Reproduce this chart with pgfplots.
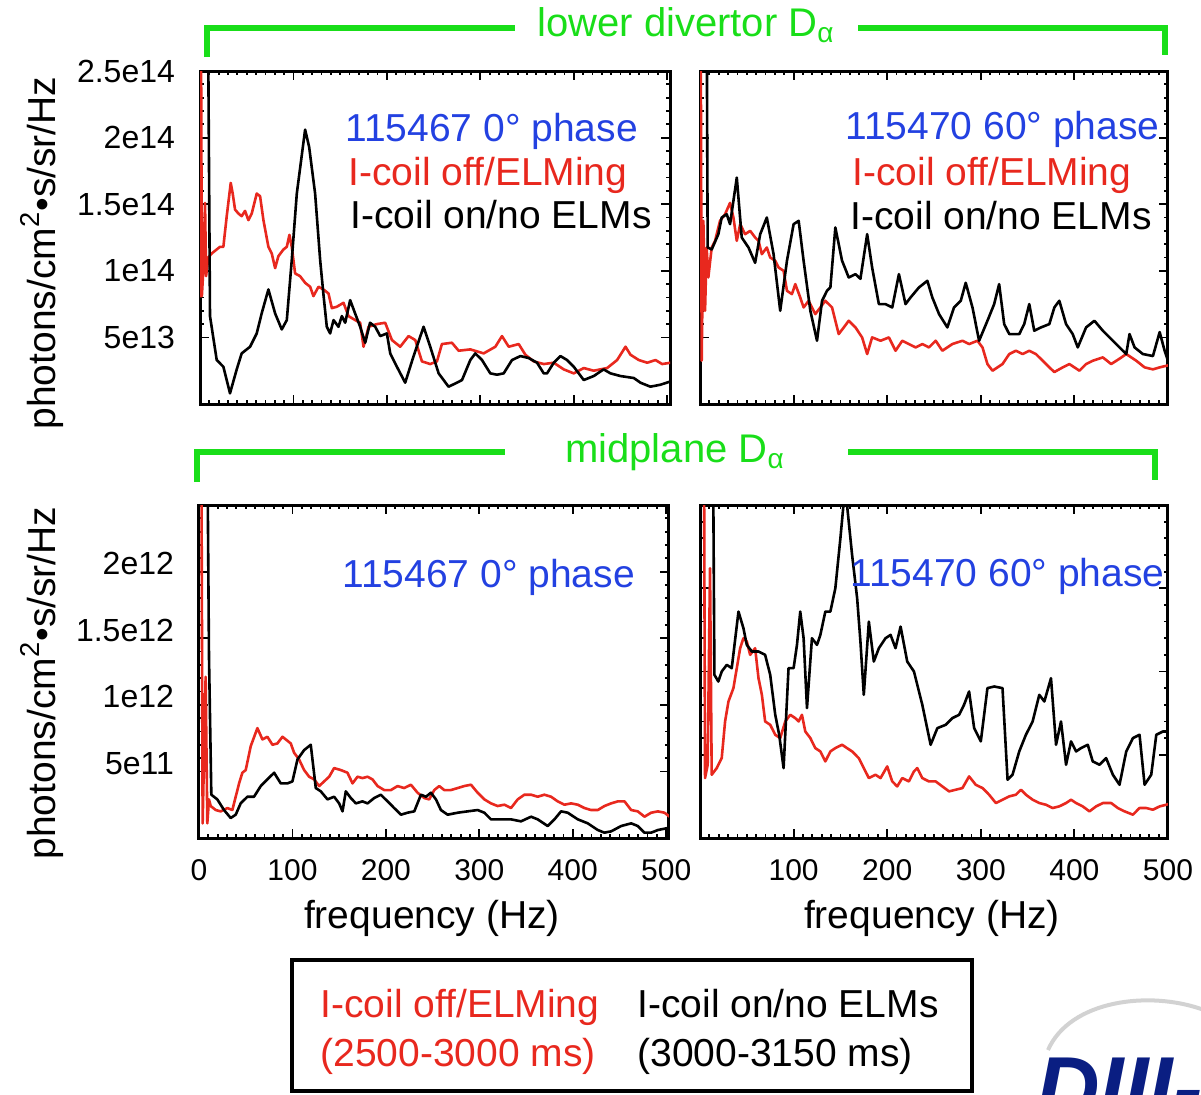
\documentclass[border=0pt]{standalone}
\usepackage{pgfplots}
\pgfplotsset{compat=1.18}
\usepackage{fontspec}
\setmainfont{Liberation Sans}
\definecolor{myred}{RGB}{232,40,30}
\definecolor{myblue}{RGB}{35,65,225}
\definecolor{mygreen}{RGB}{25,222,25}
\definecolor{navy}{RGB}{10,30,130}
\newcommand{\bigf}{\fontsize{19.5}{22}\selectfont}
\pgfplotsset{
 panel/.style={
  scale only axis, width=235pt, height=166.5pt,
  xmin=0, xmax=503, ymin=0, ymax=25,
  axis line style={line width=1.5pt},
  tick align=inside, tick pos=both,
  major tick length=4.5pt, minor tick length=2.2pt,
  every tick/.style={black, line width=0.9pt},
  xtick={0,100,200,300,400,500}, minor x tick num=9, minor y tick num=4,
  ytick={5,10,15,20,25},
  xticklabels={}, yticklabels={},
  xticklabel style={font=\fontsize{15}{17}\selectfont, yshift=-7pt},
  yticklabel style={font=\fontsize{16}{18}\selectfont, xshift=-9pt},
  /pgf/number format/assume math mode=true,
 },
 rl/.style={color=myred, line width=1.3pt, line join=round},
 bl/.style={black, line width=1.3pt, line join=round},
}
\begin{document}
\begin{tikzpicture}
\useasboundingbox (0pt,0pt) rectangle (600.5pt,-547pt);

% ---------------- top left ----------------
\begin{axis}[panel, at={(100pt,-35.5pt)}, anchor=north west,
  yticklabels={5e13,1e14,1.5e14,2e14,2.5e14}]
\addplot[rl] coordinates {(0.3,8.0)(1.0,30)(2.0,8.1)(3.5,10)(5.4,15.1)(6.5,9.6)(8.9,11.0)(12.5,11.3)(21.4,11.8)(25,11.8)(28.6,14.1)(32.9,16.6)(35,15.8)(37.5,14.6)(41.1,14.3)(44.6,14.1)(48.2,14.5)(51.8,13.8)(55.4,14.3)(60.7,15.8)(64.3,15.6)(67.9,13.8)(73.2,11.8)(76.8,11.3)(80.4,10.2)(83.9,11.1)(89.3,11.6)(92.9,11.8)(95.7,12.7)(98.2,11.8)(101.8,9.8)(107.1,9.6)(112.5,9.1)(117.9,8.8)(121.4,8.1)(126.8,8.8)(132.1,8.6)(137.5,8.3)(141.1,7.2)(146.4,7.3)(153.6,7.6)(158.9,6.6)(166.1,6.3)(171.4,6.1)(175,4.3)(180.4,5.8)(189.3,6.0)(198.2,6.1)(205.4,4.8)(214.3,4.3)(223.2,5.1)(230.4,4.8)(237.5,3.2)(246.4,3.0)(253.6,3.2)(258.9,4.5)(269.6,4.6)(276.8,4.0)(289.3,4.1)(303.6,3.8)(316.1,4.3)(323.2,5.1)(330.4,4.3)(341.1,4.5)(348.2,3.7)(357.1,3.2)(367.9,3.0)(378.6,3.1)(389.3,2.6)(400,2.3)(410.7,2.7)(421.4,2.5)(435.7,2.7)(446.4,3.3)(455.4,4.3)(460.7,3.7)(469.6,3.3)(478.6,3.1)(487.5,3.3)(494.6,3.0)(503.6,3.1)};
\addplot[bl] coordinates {(6,30)(8.5,30)(10.7,6.6)(17.9,3.3)(25,2.8)(32.1,0.8)(39.3,2.6)(44.6,3.8)(53.6,4.3)(60.7,5.3)(66,6.8)(73.2,8.6)(80.4,6.8)(87.5,5.6)(92.9,6.3)(98.2,10.8)(103.6,15.8)(112.5,20.6)(116.8,19.3)(123.2,15.8)(128.6,10.8)(132,8.3)(135.7,5.8)(139.3,5.3)(142.9,6.3)(148.2,5.8)(151.8,6.6)(155.4,6.1)(160.7,7.8)(166,6.8)(171.4,5.8)(176.8,4.6)(182,6.1)(187.5,5.8)(192.9,5.1)(200,5.3)(203.6,3.8)(210.7,2.8)(219.6,1.6)(228.6,3.6)(239.3,5.8)(246.4,4.3)(255.4,2.3)(266,1.3)(275,1.6)(280.4,1.8)(289.3,3.3)(294.6,3.8)(301.8,3.3)(310.7,2.3)(317.9,2.2)(325,2.3)(333.9,3.3)(342.9,3.6)(351.8,3.45)(360.7,3.1)(367.9,2.3)(371.4,2.3)(378.6,3.1)(385.7,3.6)(392.9,3.3)(400,2.8)(410.7,1.8)(421.4,2.1)(432,2.6)(439.3,2.3)(450,2.1)(464.3,1.95)(471.4,1.6)(482,1.3)(492.9,1.45)(503.6,1.7)};
\end{axis}

% ---------------- top right ----------------
\begin{axis}[panel, at={(350pt,-35.5pt)}, anchor=north west, width=234pt, xmax=500]
\addplot[rl] coordinates {(0.7,30)(1.8,3.25)(3.6,13.75)(5.4,7.0)(7.1,11.75)(8.9,9.5)(12.5,11.75)(16.1,12.25)(21.4,13.75)(26.8,14.25)(32.1,15.1)(35.7,14.0)(39.3,12.25)(42.9,13.5)(48.2,12.75)(53.6,13.0)(58.9,12.5)(62.5,12.25)(66.1,11.25)(71.4,11.75)(75,11.0)(80.4,10.75)(83.9,10.25)(89.3,10.0)(92.9,8.5)(98.2,8.25)(101.8,9.0)(107.1,8.0)(110.7,7.25)(116.1,7.75)(123.2,6.75)(128.6,7.25)(133.9,7.75)(141.1,7.25)(148.2,5.25)(153.6,5.75)(158.9,6.25)(166.1,5.75)(173.2,5.0)(178.6,3.75)(183.9,5.0)(192.9,4.75)(201.8,5.0)(208.9,4.0)(216.1,4.75)(223.2,4.5)(230.4,4.25)(237.5,4.5)(244.6,4.25)(251.8,4.75)(258.9,4.0)(269.6,4.5)(280.4,4.75)(287.5,4.5)(296.4,4.75)(301.8,4.25)(307.1,3.0)(312.5,2.5)(323.2,3.0)(330.4,3.75)(337.5,4.0)(344.6,3.75)(351.8,4.0)(358.9,3.75)(366.1,3.25)(373.2,2.75)(378.6,2.4)(387.5,2.75)(394.6,3.0)(405.4,2.5)(412.5,3.0)(419.6,3.25)(430.4,3.5)(439.3,3.0)(448.2,3.4)(455.4,3.75)(466.1,3.25)(475,2.75)(483.9,2.6)(491.1,2.75)(500,2.9)};
\addplot[bl] coordinates {(5,30)(7.1,30)(8.2,11.75)(12.5,11.6)(19.6,12.75)(23.2,14.0)(28.6,14.25)(32.1,13.5)(39.3,17.0)(44.6,12.5)(51.8,11.75)(58.9,10.6)(64.3,12.75)(71.4,14.0)(78.6,11.25)(85.7,7.0)(92.9,10.75)(100,13.5)(105.4,13.75)(110.7,10.75)(117.9,7.0)(125,4.75)(130.4,7.75)(135.7,8.5)(139.3,8.75)(144.6,13.25)(151.8,10.75)(158.9,9.5)(166.1,9.75)(171.4,9.4)(178.6,12.75)(183.9,10.25)(191.1,7.5)(198.2,7.5)(205.4,7.25)(212.5,9.75)(219.6,7.5)(225,8.0)(233.9,8.75)(242.9,9.25)(248.2,8.0)(255.4,6.75)(264.3,5.75)(271.4,7.25)(278.6,7.75)(283.9,9.1)(291.1,7.25)(298.2,4.75)(307.1,6.25)(314.3,7.5)(319.6,9.0)(325,6.0)(330.4,5.25)(341.1,5.25)(346.4,6.0)(351.8,7.5)(357.1,5.5)(364.3,5.75)(373.2,6.0)(378.6,7.25)(383.9,7.75)(391.1,6.0)(398.2,5.25)(403.6,4.25)(412.5,5.75)(421.4,6.25)(430.4,5.5)(441.1,4.75)(448.2,4.25)(455.4,3.75)(458.9,5.25)(464.3,4.25)(473.2,3.75)(483.9,3.6)(491.1,5.4)(496.4,4.0)(500,3.25)};
\end{axis}

% ---------------- bottom left ----------------
\begin{axis}[panel, at={(99.5pt,-252.5pt)}, anchor=north west,
  yticklabels={5e11,1e12,1.5e12,2e12,{}},
  yticklabel style={yshift=4pt},
  xticklabels={0,100,200,300,400,500}]
\addplot[rl] coordinates {(2.5,30)(3.9,1.1)(7.1,12.1)(8.9,1.1)(10.7,2.9)(12.5,2.4)(17.9,2.1)(23.2,2.0)(30.4,2.25)(35.7,2.1)(39.3,3.1)(42.9,4.1)(46.4,4.9)(50,5.1)(55.4,6.9)(62.5,8.25)(67.9,7.4)(73.2,7.6)(78.6,7.0)(83.9,7.1)(89.3,7.6)(92.9,7.4)(98.2,7.1)(101.8,6.4)(107.1,5.9)(112.5,5.1)(117.9,4.6)(123.2,4.4)(128.6,3.9)(133.9,4.25)(139.3,4.6)(144.6,5.25)(151.8,5.1)(158.9,4.9)(164.3,4.1)(169.6,4.6)(175,4.5)(180.4,4.6)(185.7,4.4)(191.1,3.9)(198.2,3.6)(205.4,3.6)(212.5,3.9)(219.6,3.75)(226.8,4.0)(233.9,3.4)(241.1,3.0)(246.4,2.9)(251.8,3.6)(257.1,3.9)(262.5,3.6)(269.6,3.6)(276.8,3.75)(283.9,3.9)(291.1,4.0)(298.2,3.4)(305.4,2.9)(312.5,2.6)(319.6,2.4)(326.8,2.5)(333.9,2.25)(341.1,2.9)(348.2,3.25)(355.4,3.25)(362.5,3.1)(369.6,3.25)(376.8,3.1)(383.9,2.75)(391.1,2.5)(398.2,2.6)(405.4,2.5)(412.5,2.25)(419.6,2.1)(426.8,2.1)(433.9,2.4)(441.1,2.6)(448.2,2.75)(455.4,2.75)(462.5,2.1)(469.6,2.0)(476.8,1.6)(483.9,1.9)(491.1,2.0)(498.2,1.9)(503.6,1.6)};
\addplot[bl] coordinates {(7,30)(8.9,30)(10.7,13.6)(13.2,3.25)(19.6,2.9)(26.8,2.1)(33.9,1.5)(39.3,1.75)(44.6,2.6)(51.8,3.1)(58.9,3.1)(66.1,3.9)(73.2,4.4)(80.4,4.9)(87.5,4.1)(94.6,4.1)(100,4.25)(105.4,5.9)(112.5,6.6)(119.6,7.0)(125,3.75)(130.4,3.5)(137.5,2.9)(144.6,3.1)(150,2.6)(153.6,2.0)(157.1,3.5)(162.5,3.0)(167.9,2.6)(175,2.75)(180.4,2.6)(187.5,3.0)(194.6,3.25)(201.8,2.75)(208.9,2.25)(216.1,1.75)(223.2,1.9)(230.4,2.0)(237.5,3.25)(242.9,3.1)(248.2,3.4)(253.6,2.9)(258.9,2.1)(266.1,1.75)(276.8,1.9)(287.5,2.0)(298.2,2.1)(305.4,1.9)(312.5,1.4)(323.2,1.4)(333.9,1.4)(344.6,1.25)(355.4,1.6)(362.5,1.4)(373.2,0.9)(380.4,1.4)(387.5,2.0)(394.6,1.9)(405.4,1.4)(416.1,1.1)(426.8,0.6)(433.9,0.4)(441.1,0.5)(451.8,0.9)(462.5,1.1)(469.6,0.9)(476.8,0.4)(483.9,0.4)(491.1,0.6)(501.8,0.75)};
\end{axis}

% ---------------- bottom right ----------------
\begin{axis}[panel, at={(350pt,-252.5pt)}, anchor=north west, width=234pt, xmax=500,
  ymax=20, ytick={5,10,15,20},
  xticklabels={{},100,200,300,400,500}]
\addplot[rl] coordinates {(3.9,30)(5.4,3.6)(8.2,4.4)(10.7,16.2)(12.5,3.8)(17.9,4.2)(23.2,4.8)(26.8,7.0)(30.4,8.2)(35.7,9.0)(39.3,10.2)(42.9,11.4)(46.4,12.0)(50,11.8)(53.6,11.0)(58.9,11.4)(62.5,9.6)(66.1,8.6)(69.6,7.0)(75,6.8)(80.4,6.2)(85.7,6.0)(91.1,7.0)(96.4,7.4)(101.8,7.2)(105.4,7.0)(108.9,7.4)(112.5,6.4)(117.9,6.0)(123.2,5.4)(128.6,5.2)(133.9,4.6)(139.3,5.2)(144.6,5.4)(151.8,5.6)(157.1,5.4)(162.5,5.2)(169.6,4.8)(175,4.2)(180.4,3.6)(187.5,3.8)(192.9,3.6)(200,4.3)(205.4,3.4)(210.7,3.1)(216.1,3.6)(223.2,3.4)(228.6,4.0)(232.1,4.2)(237.5,3.6)(244.6,3.4)(251.8,3.4)(258.9,3.1)(266.1,2.8)(273.2,2.9)(280.4,3.0)(287.5,3.7)(294.6,3.2)(301.8,3.0)(308.9,2.6)(316.1,2.1)(323.2,2.3)(330.4,2.5)(337.5,2.6)(342.9,2.9)(348.2,2.6)(355.4,2.3)(362.5,2.1)(369.6,2.0)(376.8,1.8)(383.9,1.9)(391.1,2.1)(396.4,2.3)(401.8,2.1)(408.9,1.9)(416.1,1.6)(423.2,1.9)(430.4,2.1)(439.3,2.1)(446.4,1.8)(453.6,1.6)(462.5,1.4)(469.6,1.8)(476.8,1.8)(483.9,1.7)(491.1,1.9)(498.2,2.0)(503.6,2.1)};
\addplot[bl] coordinates {(11,30)(13.2,30)(15.4,9.8)(19.6,9.4)(23.2,10.0)(28.6,10.4)(33.9,10.2)(41.1,13.6)(46.4,12.6)(50,11.6)(55.4,11.2)(62.5,11.2)(69.6,11.0)(75,9.8)(80.4,7.4)(84.6,6.2)(89.3,4.2)(94.6,10.2)(100,10.2)(103.6,11.6)(107.1,13.6)(110.7,12.0)(114.3,7.8)(119.6,12.0)(125,11.6)(128.6,12.2)(133.9,13.6)(139.3,13.6)(144.6,15.0)(150,18.0)(153.6,20.2)(157.1,20.0)(162.5,17.0)(167.9,14.4)(171.4,11.8)(175,8.6)(180.4,13.0)(185.7,10.6)(191.1,11.4)(198.2,12.0)(203.6,12.2)(208.9,11.4)(214.3,12.7)(221.4,10.6)(228.6,10.0)(237.5,8.0)(246.4,5.6)(253.6,6.6)(262.5,6.8)(269.6,7.2)(276.8,7.4)(282.1,8.0)(287.5,8.8)(292.9,6.6)(300,5.8)(307.1,9.0)(314.3,9.1)(323.2,9.0)(328.6,3.5)(333.9,3.8)(341.1,5.2)(348.2,6.2)(355.4,7.0)(362.5,8.6)(367.9,8.2)(375,9.6)(380.4,5.6)(385.7,7.0)(391.1,4.4)(396.4,5.8)(401.8,5.2)(407.1,5.4)(414.3,5.6)(419.6,4.6)(426.8,4.4)(433.9,4.8)(441.1,3.8)(448.2,3.2)(455.4,5.2)(462.5,6.0)(469.6,6.2)(475,3.2)(482.1,3.8)(487.5,6.2)(494.6,6.4)(501.8,6.4)};
\end{axis}

% ---------------- panel annotations ----------------
\node[anchor=base west, text=myblue, font=\bigf, inner sep=0pt] at (172.5pt,-70.5pt) {115467 0° phase};
\node[anchor=base west, text=myred, font=\bigf, inner sep=0pt] at (174pt,-92.5pt) {I-coil off/ELMing};
\node[anchor=base west, text=black, font=\bigf, inner sep=0pt] at (175pt,-114pt) {I-coil on/no ELMs};
\node[anchor=base west, text=myblue, font=\bigf, inner sep=0pt] at (422.5pt,-69.5pt) {115470 60° phase};
\node[anchor=base west, text=myred, font=\bigf, inner sep=0pt] at (426pt,-92.5pt) {I-coil off/ELMing};
\node[anchor=base west, text=black, font=\bigf, inner sep=0pt] at (425pt,-114.5pt) {I-coil on/no ELMs};
\node[anchor=base west, text=myblue, font=\bigf, inner sep=0pt] at (171pt,-293.5pt) {115467 0° phase};
\node[anchor=base west, text=myblue, font=\bigf, inner sep=0pt] at (425pt,-293pt) {115470 60° phase};

% ---------------- axis titles ----------------
\node[rotate=90, font=\bigf] at (21pt,-126.5pt) {photons/cm\textsuperscript{2}•s/sr/Hz};
\node[rotate=90, font=\bigf] at (21pt,-341.5pt) {photons/cm\textsuperscript{2}•s/sr/Hz};
\node[font=\bigf] at (216pt,-459pt) {frequency (Hz)};
\node[font=\bigf] at (466pt,-459pt) {frequency (Hz)};

% ---------------- green brackets ----------------
\draw[mygreen, line width=2.6pt] (103.5pt,-28.5pt) -- (103.5pt,-14pt) -- (257.5pt,-14pt);
\draw[mygreen, line width=2.6pt] (429pt,-14pt) -- (582.5pt,-14pt) -- (582.5pt,-27.5pt);
\node[text=mygreen, font=\fontsize{20}{22}\selectfont] at (343pt,-12.5pt) {lower divertor D\textsubscript{α}};
\draw[mygreen, line width=2.6pt] (98.5pt,-241pt) -- (98.5pt,-226pt) -- (252.5pt,-226pt);
\draw[mygreen, line width=2.6pt] (424pt,-226pt) -- (577.5pt,-226pt) -- (577.5pt,-240pt);
\node[text=mygreen, font=\fontsize{20}{22}\selectfont] at (337.5pt,-226pt) {midplane D\textsubscript{α}};

% ---------------- legend box ----------------
\draw[line width=1.6pt] (146pt,-480pt) rectangle (486pt,-545.5pt);
\node[anchor=base west, text=myred, font=\bigf, inner sep=0pt] at (160pt,-508.5pt) {I-coil off/ELMing};
\node[anchor=base west, text=myred, font=\bigf, inner sep=0pt] at (160pt,-533pt) {(2500-3000 ms)};
\node[anchor=base west, text=black, font=\bigf, inner sep=0pt] at (318.5pt,-508.5pt) {I-coil on/no ELMs};
\node[anchor=base west, text=black, font=\bigf, inner sep=0pt] at (318.5pt,-533pt) {(3000-3150 ms)};

% ---------------- logo fragment ----------------
\draw[gray!35, line width=2pt] (524pt,-525pt) .. controls (535pt,-500pt) and (575pt,-495pt) .. (602pt,-505pt);
\node[anchor=base west, text=navy, font=\fontsize{44}{46}\selectfont\bfseries\itshape, inner sep=0pt] at (518pt,-559pt) {DIII-D};
\end{tikzpicture}
\end{document}
